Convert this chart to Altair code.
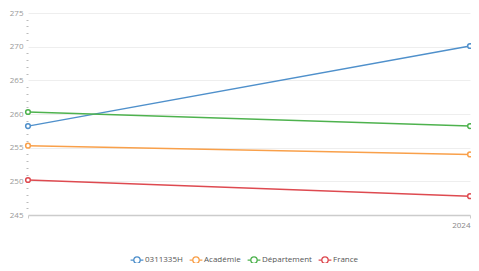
import altair as alt
import pandas as pd

years = ["2023", "2024"]
series = ["0311335H", "Académie", "Département", "France"]
values = {
    "0311335H": [258.2, 270.1],
    "Académie": [255.3, 254.0],
    "Département": [260.3, 258.2],
    "France": [250.2, 247.8],
}
colors = ["#4f90cb", "#f9a04a", "#4eb24e", "#de4a50"]
y_ticks = list(range(245, 276))

rows = []
for s in series:
    for yr, v in zip(years, values[s]):
        rows.append({"year": yr, "series": s, "value": v})
df = pd.DataFrame(rows)

legend_symbol = "M-1.6,0 L-0.8,0 M0.8,0 L1.6,0 M0.8,0 A0.8,0.8 0 1,1 -0.8,0 A0.8,0.8 0 1,1 0.8,0"

cscale = alt.Scale(domain=series, range=colors)
legend = alt.Legend(title=None, orient="none", legendX=104, legendY=242,
                    direction="horizontal",
                    symbolType=legend_symbol, symbolFillColor="white",
                    symbolStrokeWidth=1.3, symbolSize=64,
                    labelFont="Open Sans", labelFontSize=8,
                    labelColor="#555555", columnPadding=4,
                    labelOffset=3)

base = alt.Chart(df).encode(
    x=alt.X("year:N", scale=alt.Scale(type="point", padding=0), sort=years,
            axis=alt.Axis(title=None, labelAngle=0, labelExpr="datum.value == '2023' ? '' : datum.label",
                          labelAlign="right",
                          domainColor="#cccccc", domainWidth=1.5, tickColor="#cccccc",
                          tickSize=3, labelColor="#888888", labelFont="Open Sans",
                          labelFontSize=8, labelPadding=3, grid=False)),
    y=alt.Y("value:Q", scale=alt.Scale(domain=[245, 275], nice=False, zero=False),
            axis=alt.Axis(title=None, values=y_ticks, domain=False,
                          labelExpr="datum.value % 5 === 0 ? datum.label : ''",
                          gridColor="#eeeeee",
                          gridOpacity={"condition": {"test": "datum.value % 5 === 0 && datum.value > 245", "value": 1}, "value": 0},
                          tickOpacity={"condition": {"test": "datum.value % 5 === 0", "value": 0}, "value": 1},
                          tickColor="#bbbbbb", tickSize=2, tickWidth=1,
                          labelColor="#999999", labelFont="Open Sans", labelFontSize=8,
                          labelPadding=3)),
    color=alt.Color("series:N", scale=cscale, legend=legend),
)

lines = base.mark_line(strokeWidth=1.5)
points = base.mark_point(filled=False, fill="white", fillOpacity=1, size=22, strokeWidth=1.5,
                         opacity=1, shape="circle")

chart = alt.layer(lines, points).properties(
    width=442, height=202,
    autosize=alt.AutoSizeParams(type="none"),
    padding={"top": 5, "left": 20, "right": 1, "bottom": 48},
).configure(background="white").configure_view(stroke=None)

chart.save("out.html", embed_options={"renderer": "svg", "actions": False})
